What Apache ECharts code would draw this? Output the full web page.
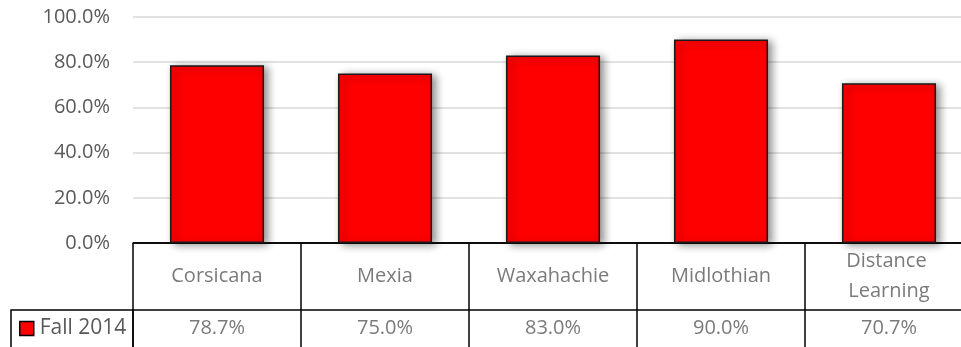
<!DOCTYPE html>
<html>
<head>
<meta charset="utf-8">
<script src="https://cdn.jsdelivr.net/npm/echarts@6/dist/echarts.min.js"></script>
<style>
html,body{margin:0;padding:0;background:#fff;overflow:hidden;width:961px;height:347px;}
#chart{width:973px;height:380px;}
</style>
</head>
<body>
<div id="chart"></div>
<script>
const categories = ['Corsicana', 'Mexia', 'Waxahachie', 'Midlothian', 'Distance Learning'];
const fall2014 = [78.7, 75.0, 83.0, 90.0, 70.7];
const seriesName = 'Fall 2014';
const yMin = 0, yMax = 100, yInterval = 20;
const tableRows = ['names', 'values'];

const FONT = 'Open Sans';
const TXT = '#595959';
const fmt = v => v.toFixed(1) + '%';

const chart = echarts.init(document.getElementById('chart'), null, {renderer: 'canvas'});
chart.setOption({
  animation: false,
  backgroundColor: '#ffffff',
  textStyle: {fontFamily: FONT},
  legend: {
    data: [seriesName],
    left: 19, top: 318, padding: 0,
    icon: 'rect', itemWidth: 14, itemHeight: 14, itemGap: 10,
    itemStyle: {color: '#ff0000', borderColor: '#000', borderWidth: 1.5, shadowBlur: 0, shadowOffsetX: 0, shadowOffsetY: 0},
    textStyle: {color: TXT, fontSize: 21, fontFamily: FONT, padding: [0, 0, 0, 1]}
  },
  grid: [
    {left: 133, right: 0, top: 17, height: 226, containLabel: false},
    {left: 133, right: 0, top: 243, height: 134, containLabel: false}
  ],
  xAxis: [
    {
      gridIndex: 0, type: 'category', data: categories,
      axisLine: {show: true, lineStyle: {color: '#000', width: 1.5}},
      axisTick: {show: false}, axisLabel: {show: false}, splitLine: {show: false}
    },
    {
      gridIndex: 1, type: 'category', data: categories, position: 'top',
      axisLine: {show: false}, axisTick: {show: false}, axisLabel: {show: false},
      splitLine: {show: true, interval: 0, lineStyle: {color: '#000', width: 1.5}}
    }
  ],
  yAxis: [
    {
      gridIndex: 0, type: 'value', min: yMin, max: yMax, interval: yInterval,
      axisLine: {show: false}, axisTick: {show: false},
      axisLabel: {formatter: v => fmt(v), color: TXT, fontSize: 20, fontFamily: FONT, margin: 23},
      splitLine: {lineStyle: {color: '#d9d9d9', width: 1.5}}
    },
    {
      gridIndex: 1, type: 'category', data: tableRows, inverse: true,
      axisLine: {show: false}, axisTick: {show: false},
      axisLabel: {
        interval: 0, margin: 122, align: 'left', verticalAlign: 'middle',
        formatter: v => v === 'values' ? '{cell| }' : '',
        rich: {cell: {width: 122, height: 67, borderColor: '#000', borderWidth: 1.5, padding: 0}}
      },
      splitLine: {show: true, interval: 0, lineStyle: {color: '#000', width: 1.5}}
    }
  ],
  series: [
    {
      name: seriesName, type: 'bar', xAxisIndex: 0, yAxisIndex: 0,
      data: fall2014, barWidth: '56%',
      itemStyle: {
        color: '#ff0000', borderColor: '#1a1a1a', borderWidth: 1.5,
        shadowColor: 'rgba(0,0,0,0.45)', shadowBlur: 8, shadowOffsetX: 4, shadowOffsetY: 2
      }
    },
    {
      name: 'names', type: 'scatter', xAxisIndex: 1, yAxisIndex: 1,
      symbolSize: 0, silent: true,
      data: categories.map((c, i) => [i, 'names']),
      label: {
        show: true, position: 'inside', color: TXT, fontSize: 20, fontFamily: FONT,
        lineHeight: 30, width: 150, overflow: 'break', align: 'center',
        formatter: p => categories[p.dataIndex]
      }
    },
    {
      name: 'values', type: 'scatter', xAxisIndex: 1, yAxisIndex: 1,
      symbolSize: 0, silent: true,
      data: fall2014.map((v, i) => [i, 'values']),
      label: {
        show: true, position: 'inside', color: TXT, fontSize: 20, fontFamily: FONT,
        offset: [0, -15],
        formatter: p => fmt(fall2014[p.dataIndex])
      }
    }
  ]
});
</script>
</body>
</html>
